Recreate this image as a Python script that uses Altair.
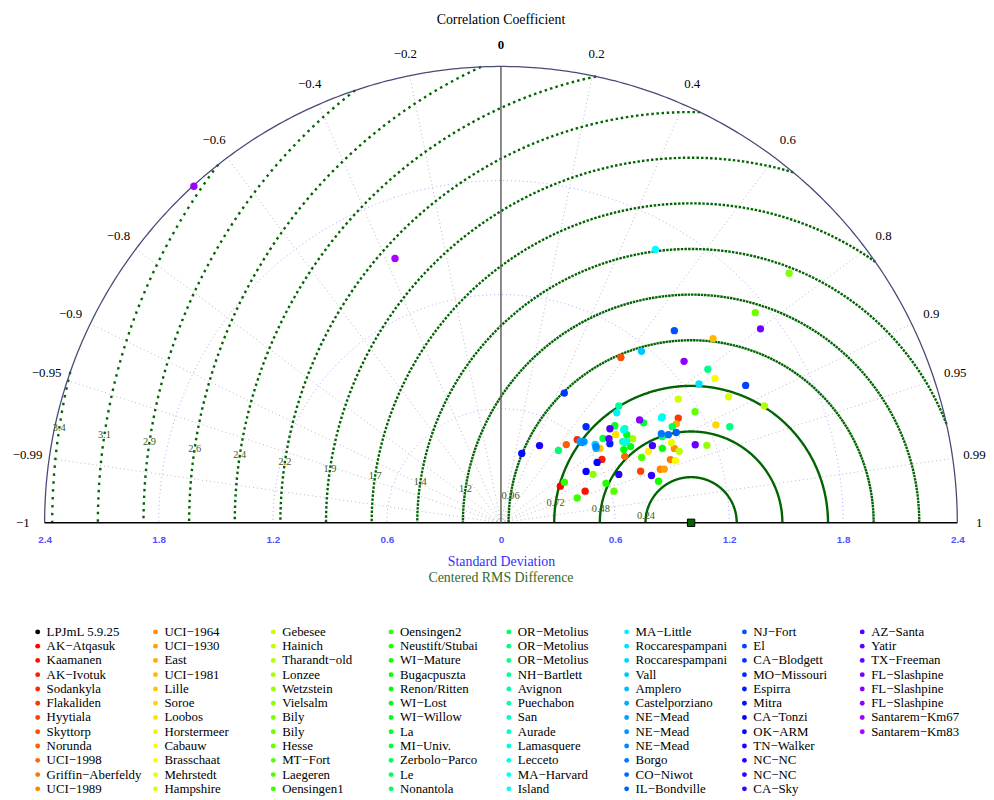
import math
import colorsys
import numpy as np
import pandas as pd
import altair as alt

# ---------------- data ----------------
model_name = "LPJmL 5.9.25"
stations = [
    "AK-Atqasuk", "Kaamanen", "AK-Ivotuk", "Sodankyla", "Flakaliden", "Hyytiala", "Skyttorp", "Norunda",
    "UCI-1998", "Griffin-Aberfeldy", "UCI-1989",
    "UCI-1964", "UCI-1930", "East", "UCI-1981", "Lille", "Soroe", "Loobos", "Horstermeer", "Cabauw",
    "Brasschaat", "Mehrstedt", "Hampshire",
    "Gebesee", "Hainich", "Tharandt-old", "Lonzee", "Wetzstein", "Vielsalm", "Bily", "Bily", "Hesse",
    "MT-Fort", "Laegeren", "Oensingen1",
    "Oensingen2", "Neustift/Stubai", "WI-Mature", "Bugacpuszta", "Renon/Ritten", "WI-Lost", "WI-Willow",
    "La", "MI-Univ.", "Zerbolo-Parco", "Le", "Nonantola",
    "OR-Metolius", "OR-Metolius", "OR-Metolius", "NH-Bartlett", "Avignon", "Puechabon", "San", "Aurade",
    "Lamasquere", "Lecceto", "MA-Harvard", "Island",
    "MA-Little", "Roccarespampani", "Roccarespampani", "Vall", "Amplero", "Castelporziano", "NE-Mead",
    "NE-Mead", "NE-Mead", "Borgo", "CO-Niwot", "IL-Bondville",
    "NJ-Fort", "El", "CA-Blodgett", "MO-Missouri", "Espirra", "Mitra", "CA-Tonzi", "OK-ARM", "TN-Walker",
    "NC-NC", "NC-NC", "CA-Sky",
    "AZ-Santa", "Yatir", "TX-Freeman", "FL-Slashpine", "FL-Slashpine", "FL-Slashpine", "Santarem-Km67",
    "Santarem-Km83",
]

# normalised standard deviation of each station
sd_norm = [
    0.367, 0.473, 0.627, 0.593, 1.083, 0.783, 1.074, 0.536, 0.739, 0.951,
    0.884, 0.992, 0.904, 1.059, 1.477, 0.651, 1.242, 0.761, 0.862, 1.358,
    0.974, 0.990, 1.368, 1.137, 1.010, 1.516, 0.822, 1.157, 0.547, 2.005,
    1.735, 1.176, 0.617, 0.816, 0.422, 0.396, 0.590, 0.857, 0.935, 0.752,
    0.791, 0.808, 0.787, 0.916, 0.696, 1.033, 0.962, 0.486, 1.305, 1.355,
    0.873, 0.818, 0.770, 0.787, 1.015, 0.776, 0.810, 1.008, 1.651, 0.840,
    1.272, 0.644, 1.166, 0.635, 0.597, 0.611, 0.600, 0.641, 0.965, 0.995,
    1.037, 1.361, 1.476, 0.759, 0.675, 0.708, 0.381, 0.597, 0.523, 0.454,
    0.670, 0.830, 0.894, 0.757, 0.720, 1.101, 1.704, 0.908, 1.284, 2.396, 1.498,
]
# correlation coefficient of each station
corr = [
    0.851, 0.936, 0.847, 0.676, 0.861, 0.938, 0.587, 0.641, 0.881, 0.937,
    0.948, 0.919, 0.950, 0.871, 0.755, 0.800, 0.910, 0.793, 0.900, 0.829,
    0.942, 0.905, 0.875, 0.820, 0.928, 0.914, 0.843, 0.936, 0.885, 0.756,
    0.771, 0.868, 0.963, 0.907, 0.951, 0.842, 0.936, 0.967, 0.908, 0.859,
    0.862, 0.819, 0.761, 0.819, 0.771, 0.872, 0.882, 0.622, 0.922, 0.803,
    0.710, 0.796, 0.832, 0.840, 0.836, 0.839, 0.797, 0.837, 0.492, 0.725,
    0.819, 0.769, 0.634, 0.788, 0.698, 0.716, 0.711, 0.780, 0.874, 0.885,
    0.889, 0.670, 0.872, 0.439, 0.663, 0.809, 0.287, 0.847, 0.856, 0.447,
    0.925, 0.954, 0.891, 0.757, 0.789, 0.928, 0.801, 0.803, 0.750, -0.674, -0.372,
]

sd_ticks = [-2.4, -1.8, -1.2, -0.6, 0, 0.6, 1.2, 1.8, 2.4]
sd_arcs = [0.6, 1.2, 1.8]
corr_ticks = [-1, -0.99, -0.95, -0.9, -0.8, -0.6, -0.4, -0.2, 0, 0.2, 0.4, 0.6, 0.8, 0.9, 0.95, 0.99, 1]
corr_tick_labels = ["\u22121", "\u22120.99", "\u22120.95", "\u22120.9", "\u22120.8", "\u22120.6", "\u22120.4",
                    "\u22120.2", "0", "0.2", "0.4", "0.6", "0.8", "0.9", "0.95", "0.99", "1"]
rms_radii = [0.24, 0.48, 0.72, 0.96, 1.2, 1.44, 1.68, 1.92, 2.16, 2.4, 2.64, 2.88, 3.12, 3.36]
rms_labels = ["0.24", "0.48", "0.72", "0.96", "1.2", "1.4", "1.7", "1.9", "2.2", "2.4", "2.6", "2.9", "3.1", "3.4"]
SD_MAX = 2.4
REF_SD = 1.0

# ---------------- styles ----------------
SERIF = "Liberation Serif"
GREEN = "#006400"
rms_dash = [[6, 0], [6, 0], [6, 0], [2.5, 0.6], [2.5, 0.8], [2.5, 1.2], [2.5, 1.6], [2.5, 2.1],
            [2.5, 2.7], [2.5, 3.2], [2.5, 3.8], [2.5, 4.3], [2.5, 4.9], [2.5, 5.5]]


def hsv_hex(h):
    r, g, b = colorsys.hsv_to_rgb(h / 360.0, 1.0, 1.0)
    return "#%02x%02x%02x" % (round(r * 255), round(g * 255), round(b * 255))


station_colors = [hsv_hex(280.0 * i / (len(stations) - 1)) for i in range(len(stations))]

# ---------------- geometry tables ----------------
t = np.linspace(0, np.pi, 361)
outer = pd.DataFrame({"x": SD_MAX * np.cos(t), "y": SD_MAX * np.sin(t), "i": np.arange(len(t)), "g": 0})

arcs = pd.concat([
    pd.DataFrame({"x": r * np.cos(t), "y": r * np.sin(t), "i": np.arange(len(t)), "g": r}) for r in sd_arcs
])

radial_rows = []
for c in corr_ticks:
    if abs(c) in (0, 1):
        continue
    s = math.sqrt(1 - c * c)
    radial_rows.append({"x": 0.0, "y": 0.0, "i": 0, "g": c})
    radial_rows.append({"x": SD_MAX * c, "y": SD_MAX * s, "i": 1, "g": c})
radial = pd.DataFrame(radial_rows)

baseline = pd.DataFrame({"x": [-SD_MAX, SD_MAX], "y": [0.0, 0.0], "i": [0, 1], "g": 0})
vline = pd.DataFrame({"x": [0.0, 0.0], "y": [0.0, SD_MAX], "i": [0, 1], "g": 0})

rms_parts = []
for r, lab in zip(rms_radii, rms_labels):
    cos0 = (SD_MAX ** 2 - REF_SD ** 2 - r ** 2) / (2 * REF_SD * r)
    t0 = math.acos(max(-1.0, min(1.0, cos0)))
    tt = np.linspace(t0, np.pi, 500)
    rms_parts.append(pd.DataFrame({"x": REF_SD + r * np.cos(tt), "y": r * np.sin(tt),
                                   "i": np.arange(len(tt)), "g": lab}))
rms = pd.concat(rms_parts)

lab_ang = math.radians(171.5)
rms_text = pd.DataFrame({
    "x": [REF_SD + r * math.cos(lab_ang) for r in rms_radii],
    "y": [r * math.sin(lab_ang) for r in rms_radii],
    "label": rms_labels,
})

LAB_R = 2.515
corr_text = pd.DataFrame({
    "x": [LAB_R * c for c in corr_ticks],
    "y": [LAB_R * math.sqrt(1 - c * c) for c in corr_ticks],
    "label": corr_tick_labels,
    "c": corr_ticks,
})

pts = pd.DataFrame({"station": stations, "sd": sd_norm, "corr": corr, "color": station_colors})
pts["x"] = pts["sd"] * pts["corr"]
pts["y"] = pts["sd"] * np.sqrt(1 - pts["corr"] ** 2)

ref = pd.DataFrame({"x": [REF_SD], "y": [0.0]})

# ---------------- encodings ----------------
xscale = alt.Scale(domain=[-SD_MAX, SD_MAX], nice=False, zero=False)
yscale = alt.Scale(domain=[0, SD_MAX], nice=False, zero=False)
xaxis = alt.Axis(
    values=sd_ticks,
    labelExpr="datum.value == 0 ? '0' : format(abs(datum.value), '.1f')",
    labelColor="#5050ff", labelFont="Liberation Sans", labelFontWeight="bold", labelFontSize=10,
    labelPadding=12, labelFlush=False, domain=False, ticks=False, grid=False,
    titleColor="#3030ff", titleFont=SERIF, titleFontWeight="normal", titleFontSize=14, titlePadding=10,
)


def XY():
    return dict(
        x=alt.X("x:Q", scale=xscale, axis=xaxis, title="Standard Deviation"),
        y=alt.Y("y:Q", scale=yscale, axis=None),
    )


outer_l = alt.Chart(outer).mark_line(color="#4a4a78", strokeWidth=1.3).encode(**XY(), order="i:Q")
arcs_l = alt.Chart(arcs).mark_line(color="#a8a8ff", strokeWidth=1, strokeDash=[1, 3]).encode(
    **XY(), order="i:Q", detail="g:N")
radial_l = alt.Chart(radial).mark_line(color="#b8b8b8", strokeWidth=1, strokeDash=[1, 3]).encode(
    **XY(), order="i:Q", detail="g:N")
rms_l = alt.Chart(rms).mark_line(color=GREEN, strokeWidth=2.4, strokeCap="butt").encode(
    **XY(), order="i:Q", detail="g:N",
    strokeDash=alt.StrokeDash("g:N", scale=alt.Scale(domain=rms_labels, range=rms_dash), legend=None),
)
base_l = alt.Chart(baseline).mark_line(color="black", strokeWidth=1.5).encode(**XY(), order="i:Q")
vline_l = alt.Chart(vline).mark_line(color="#606060", strokeWidth=1.5).encode(**XY(), order="i:Q")

rms_text_l = alt.Chart(rms_text).mark_text(font=SERIF, fontSize=10.5, color="#3f5a1c").encode(
    **XY(), text="label:N")
corr_text_l = alt.Chart(corr_text).transform_filter("datum.c != 0").mark_text(
    font=SERIF, fontSize=13, color="black").encode(**XY(), text="label:N")
corr_zero_l = alt.Chart(corr_text).transform_filter("datum.c == 0").mark_text(
    font=SERIF, fontSize=13, fontWeight="bold", color="black").encode(**XY(), text="label:N")

pts_l = alt.Chart(pts).mark_circle(size=55, opacity=1).encode(
    **XY(), color=alt.Color("color:N", scale=None), tooltip=["station:N", "sd:Q", "corr:Q"])
ref_l = alt.Chart(ref).mark_square(size=55, color=GREEN, stroke="black", strokeWidth=1, opacity=1).encode(**XY())

main = alt.layer(
    arcs_l, radial_l, rms_l, outer_l, base_l, vline_l, rms_text_l, corr_text_l, corr_zero_l, pts_l, ref_l
).properties(
    width=922, height=461,
    title=alt.TitleParams("Correlation Coefficient", font=SERIF, fontSize=14, fontWeight="normal",
                          color="black", offset=12, anchor="middle", frame="group"),
)

# ---------------- legend (8 columns x 12 rows) ----------------
names = [model_name] + stations
leg = pd.DataFrame({
    "label": [n.replace("-", "\u2212") for n in names],
    "color": ["#000000"] + station_colors,
    "col": [k // 12 for k in range(len(names))],
    "row": [k % 12 for k in range(len(names))],
})
lx = alt.X("col:Q", scale=alt.Scale(domain=[0.0588, 7.807], nice=False, zero=False), axis=None)
ly = alt.Y("row:Q", scale=alt.Scale(domain=[11.5, -0.5], nice=False, zero=False), axis=None)
leg_dots = alt.Chart(leg).mark_circle(size=24, opacity=1).encode(
    x=lx, y=ly, color=alt.Color("color:N", scale=None))
leg_text = alt.Chart(leg).mark_text(align="left", baseline="middle", dx=9, font=SERIF, fontSize=13,
                                    color="black").encode(x=lx, y=ly, text="label:N")
legend = alt.layer(leg_dots, leg_text).properties(
    width=922, height=173,
    title=alt.TitleParams("Centered RMS Difference", font=SERIF, fontSize=14, fontWeight="normal",
                          color="#2f6a2f", offset=40, anchor="middle", frame="group"),
)

chart = alt.vconcat(main, legend, spacing=103, bounds="flush",
                    padding={"left": 4, "top": 0, "right": 0, "bottom": 0}).configure_view(stroke=None)

chart.save("out.html", embed_options={"renderer": "svg", "actions": False})
